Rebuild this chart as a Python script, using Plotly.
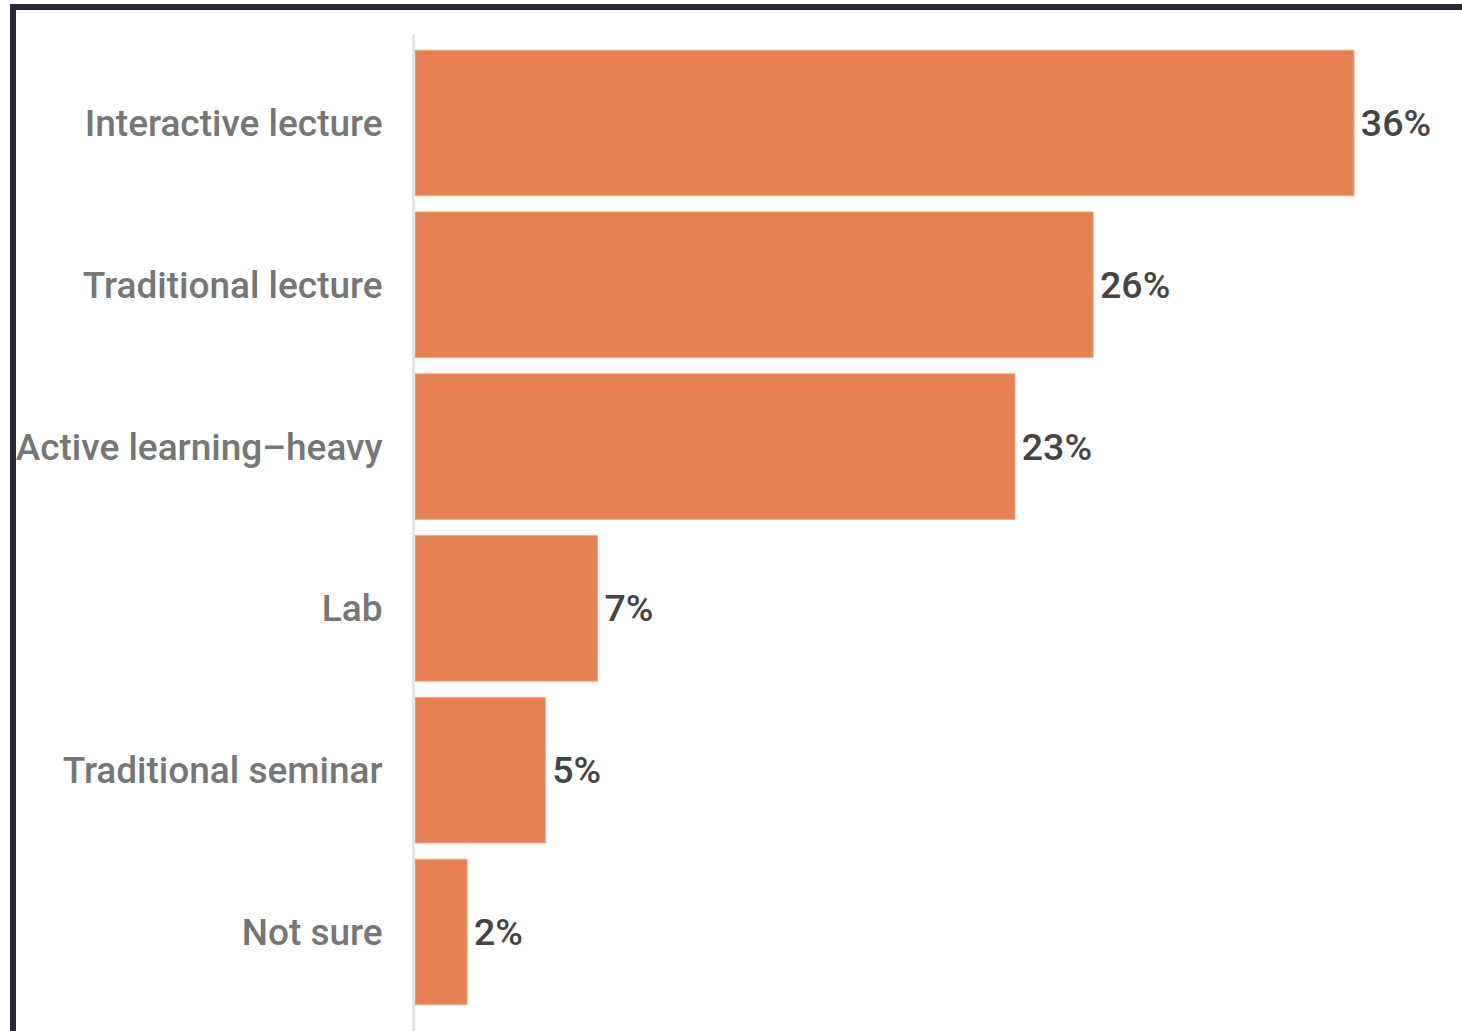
import plotly.graph_objects as go

categories = ["Interactive lecture", "Traditional lecture", "Active learning–heavy",
              "Lab", "Traditional seminar", "Not sure"]
values = [36, 26, 23, 7, 5, 2]
value_labels = ["36%", "26%", "23%", "7%", "5%", "2%"]

W, H = 1462, 1031
L, R, T, B = 415, 0, 34, 0
pw, ph = W - L - R, H - T - B

fig = go.Figure(go.Bar(
    x=values, y=categories, orientation="h",
    marker=dict(color="#E58153", line=dict(color="#F0A884", width=1)),
    text=["\u200a" + v for v in value_labels], textposition="outside",
    textfont=dict(family="Roboto", size=37.5, color="#444444", weight=500),
    cliponaxis=False, hoverinfo="skip",
))

def px_x(p):
    return (p - L) / pw

def px_y(p):
    return (H - B - p) / ph

fig.update_layout(
    width=W, height=H,
    margin=dict(l=L, r=R, t=T, b=B, pad=0),
    paper_bgcolor="white", plot_bgcolor="white",
    bargap=0.1, showlegend=False,
    font=dict(family="Roboto"),
    xaxis=dict(range=[0, 40.14], visible=False, showgrid=False, zeroline=False),
    yaxis=dict(
        categoryorder="array", categoryarray=categories,
        range=[5.612, -0.550],
        showline=True, linecolor="#E6E6E6", linewidth=3,
        showgrid=False, zeroline=False, ticks="",
        ticklabelstandoff=22,
        tickfont=dict(family="Roboto", size=37, color="#767676", weight=500),
    ),
    shapes=[dict(
        type="rect", xref="paper", yref="paper",
        x0=px_x(13), x1=px_x(1500), y0=px_y(1100), y1=px_y(7),
        line=dict(color="#272833", width=6), fillcolor="rgba(0,0,0,0)",
        layer="above",
    )],
)

fig.write_html(
    "out.html",
    config={"displayModeBar": False, "staticPlot": True},
    post_script="document.body.style.margin='0';document.body.style.overflow='hidden';",
)
